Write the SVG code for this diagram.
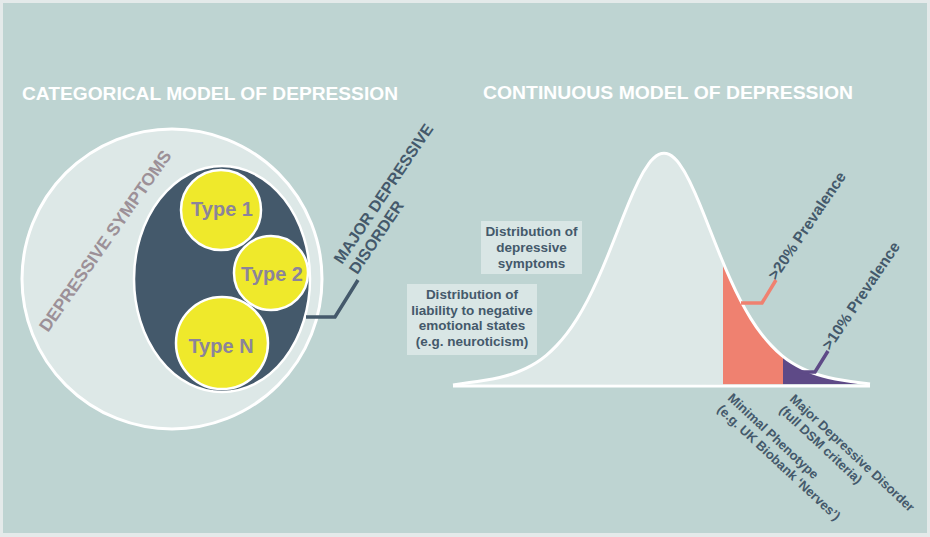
<svg xmlns="http://www.w3.org/2000/svg" width="930" height="537" viewBox="0 0 930 537">
<style>
.t{font-family:"Liberation Sans",Arial,sans-serif;font-weight:bold}
.title{font-size:19px;fill:#ffffff}
.dark{fill:#44596b}
.typ{font-size:20px;fill:#8b849a;text-anchor:middle}
.box{fill:#d9e6e5}
.boxt{font-size:13.5px;fill:#44596b;text-anchor:middle}
.yc{fill:#efe92b;stroke:#ffffff;stroke-width:2.5}
.conn{fill:none;stroke-width:3.5;stroke-linejoin:miter}
</style>
<defs>
<path id="bell" d="M453,385 L461.25,383.7 Q469.5,382.4 477.25,381.45 Q485,380.5 492.65,379 Q500.3,377.5 505.4,376.05 Q510.5,374.6 515.6,372.75 Q520.7,370.9 525.85,368.45 Q531,366 536.1,362.8 Q541.2,359.6 546.3,355.35 Q551.4,351.1 556.55,345.65 Q561.7,340.2 566.8,333.6 Q571.9,327 577,318.85 Q582.1,310.7 587.25,300.9 Q592.4,291.1 597.5,279.7 Q602.6,268.3 607.7,255.7 Q612.8,243.1 617.95,229.95 Q623.1,216.8 628.2,204.3 Q633.3,191.8 638.4,181.35 Q643.5,170.9 648.65,163.9 Q653.8,156.9 658.9,154.45 Q664,152 669.1,154.45 Q674.2,156.9 679.35,163.9 Q684.5,170.9 689.6,181.35 Q694.7,191.8 699.8,204.3 Q704.9,216.8 710.05,229.95 Q715.2,243.1 720.3,255.7 Q725.4,268.3 730.5,279.7 Q735.6,291.1 740.75,300.9 Q745.9,310.7 751,318.85 Q756.1,327 761.2,333.6 Q766.3,340.2 771.45,345.65 Q776.6,351.1 781.7,355.35 Q786.8,359.6 791.9,362.8 Q797,366 802.15,368.45 Q807.3,370.9 812.4,372.75 Q817.5,374.6 822.6,376.05 Q827.7,377.5 835.35,379 Q843,380.5 850.75,381.45 Q858.5,382.4 864.25,383.2 L870,384"/>
<clipPath id="bellClip"><use href="#bell"/></clipPath>
</defs>
<rect x="0" y="0" width="930" height="537" fill="#e4eaea"/>
<rect x="3" y="3" width="924" height="530" fill="#bed4d2"/>
<text class="t title" x="22" y="100" textLength="376" lengthAdjust="spacingAndGlyphs">CATEGORICAL MODEL OF DEPRESSION</text>
<text class="t title" x="483" y="99" textLength="370" lengthAdjust="spacingAndGlyphs">CONTINUOUS MODEL OF DEPRESSION</text>
<g id="depressive-symptoms">
<circle cx="172" cy="279" r="150" fill="#dde8e7" stroke="#ffffff" stroke-width="3"/>
<text class="t" font-size="17.5" fill="#9c9097" transform="translate(48,333) rotate(-55)">DEPRESSIVE SYMPTOMS</text>
</g>
<g id="mdd">
<ellipse cx="222" cy="279" rx="88" ry="113" fill="#44596b" stroke="#ffffff" stroke-width="2.5"/>
</g>
<g id="type1"><circle class="yc" cx="221" cy="210" r="40"/><text class="t typ" x="222" y="216">Type 1</text></g>
<g id="type2"><circle class="yc" cx="271" cy="273" r="37"/><text class="t typ" x="272" y="281">Type 2</text></g>
<g id="typeN"><circle class="yc" cx="222" cy="343" r="46"/><text class="t typ" x="221" y="353">Type N</text></g>
<g id="mdd-label">
<text class="t dark" font-size="16" transform="translate(342,265) rotate(-56)"><tspan x="0" y="0">MAJOR DEPRESSIVE</tspan><tspan x="0" dy="18.5">DISORDER</tspan></text>
</g>
<g id="bell-curve">
<use href="#bell" fill="#dde8e7"/>
<g clip-path="url(#bellClip)">
<rect x="723" y="140" width="60" height="250" fill="#ef8170"/>
<rect x="783" y="140" width="95" height="250" fill="#5e4a87"/>
</g>
<use href="#bell" fill="none" stroke="#ffffff" stroke-width="3"/>
<line x1="453" y1="386" x2="870" y2="386" stroke="#ffffff" stroke-width="3"/>
</g>
<g id="box-symptoms">
<rect class="box" x="481" y="221" width="101" height="53"/>
<text class="t boxt"><tspan x="531.5" y="236">Distribution of</tspan><tspan x="531.5" y="252">depressive</tspan><tspan x="531.5" y="268">symptoms</tspan></text>
</g>
<g id="box-liability">
<rect class="box" x="407" y="284" width="130" height="71"/>
<text class="t boxt"><tspan x="472" y="299">Distribution of</tspan><tspan x="472" y="314.5">liability to negative</tspan><tspan x="472" y="330">emotional states</tspan><tspan x="472" y="345.5">(e.g. neuroticism)</tspan></text>
</g>
<g id="prev20"><text class="t dark" font-size="15.5" transform="translate(776,281) rotate(-56)">&gt;20% Prevalence</text></g>
<g id="prev10"><text class="t dark" font-size="15.5" transform="translate(830,351) rotate(-56)">&gt;10% Prevalence</text></g>
<g id="minimal-phenotype"><text class="t dark" font-size="13" transform="translate(727,399) rotate(43)"><tspan x="0" y="0">Minimal Phenotype</tspan><tspan x="0" dy="15.5">(e.g. UK Biobank &#8216;Nerves&#8217;)</tspan></text></g>
<g id="mdd-dsm"><text class="t dark" font-size="13" transform="translate(789,400) rotate(43)"><tspan x="0" y="0">Major Depressive Disorder</tspan><tspan x="0" dy="15.5">(full DSM criteria)</tspan></text></g>
<g id="connectors">
<polyline class="conn" stroke="#44596b" points="306,317 335,317 358,280"/>
<polyline class="conn" stroke="#ef8170" stroke-width="3" points="741,303 762,303 776,280"/>
<polyline class="conn" stroke="#5e4a87" stroke-width="3" points="800,372 815,372 828,351"/>
</g>
</svg>
